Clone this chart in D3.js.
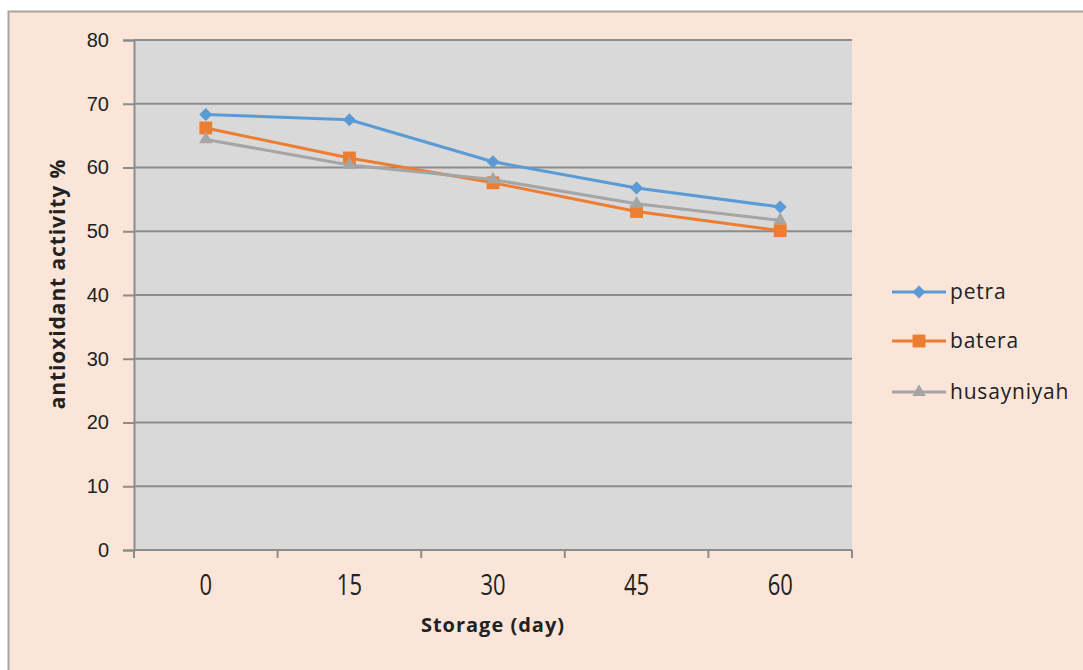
<!DOCTYPE html>
<html>
<head>
<meta charset="utf-8">
<script src="https://cdn.jsdelivr.net/npm/d3@7"></script>
<style>
  body { margin: 0; background: #fff; }
  svg { display: block; font-family: "Open Sans", "Liberation Sans", sans-serif; }
</style>
</head>
<body>
<svg id="chart" width="1083" height="670"></svg>
<script>
const days = ["0", "15", "30", "45", "60"];
const petra = [68.3, 67.5, 60.9, 56.8, 53.8];
const batera = [66.2, 61.5, 57.6, 53.1, 50.1];
const husayniyah = [64.4, 60.4, 58.1, 54.3, 51.7];
const yTicks = [0, 10, 20, 30, 40, 50, 60, 70, 80];

// square-ish diamond like the spreadsheet marker
const rhombus = {
  draw(ctx, size) {
    const r = Math.sqrt(size / 2);
    ctx.moveTo(0, -r); ctx.lineTo(r, 0); ctx.lineTo(0, r); ctx.lineTo(-r, 0); ctx.closePath();
  }
};

const series = [
  { name: "petra", values: petra, color: "#5B9BD5", shape: rhombus, size: 85 },
  { name: "batera", values: batera, color: "#ED7D31", shape: d3.symbolSquare, size: 165 },
  { name: "husayniyah", values: husayniyah, color: "#A5A5A5", shape: d3.symbolTriangle, size: 80 },
];

const svg = d3.select("#chart");

// chart frame
svg.append("rect")
  .attr("x", 8.5).attr("y", 11.5)
  .attr("width", 1090).attr("height", 680)
  .attr("fill", "#FAE5D8")
  .attr("stroke", "#A6A6A6").attr("stroke-width", 2);

const plot = { left: 134, right: 852, top: 40, bottom: 550 };

const x = d3.scaleBand().domain(days).range([plot.left, plot.right]).padding(0);
const y = d3.scaleLinear().domain([0, 80]).range([plot.bottom, plot.top]);

svg.append("rect")
  .attr("x", plot.left).attr("y", plot.top)
  .attr("width", plot.right - plot.left).attr("height", plot.bottom - plot.top)
  .attr("fill", "#D9D9D9");

// gridlines
svg.append("g")
  .selectAll("line")
  .data(yTicks.filter(d => d > 0))
  .join("line")
  .attr("x1", plot.left).attr("x2", plot.right)
  .attr("y1", d => y(d)).attr("y2", d => y(d))
  .attr("stroke", "#8C8C8C").attr("stroke-width", 2);

// y axis
const yAxis = svg.append("g")
  .attr("transform", `translate(${plot.left},0)`)
  .call(d3.axisLeft(y).tickValues(yTicks).tickSize(11).tickPadding(14));
yAxis.select(".domain").attr("stroke", "#8C8C8C").attr("stroke-width", 2);
yAxis.selectAll(".tick line").attr("stroke", "#8C8C8C").attr("stroke-width", 2);
yAxis.selectAll("text").attr("font-size", 20).attr("fill", "#222");

// x axis: ticks sit on band edges
const xAxis = svg.append("g")
  .attr("transform", `translate(0,${plot.bottom})`);
xAxis.append("line")
  .attr("x1", plot.left).attr("x2", plot.right)
  .attr("stroke", "#8C8C8C").attr("stroke-width", 2);
xAxis.selectAll(".edge")
  .data(days.map(d => x(d)).concat([x(days[days.length - 1]) + x.bandwidth()]))
  .join("line")
  .attr("class", "edge")
  .attr("x1", d => d).attr("x2", d => d)
  .attr("y1", 0).attr("y2", 8)
  .attr("stroke", "#8C8C8C").attr("stroke-width", 2);
xAxis.selectAll("text")
  .data(days)
  .join("text")
  .attr("transform", d => `translate(${x(d) + x.bandwidth() / 2},45) scale(1,1.3)`)
  .attr("text-anchor", "middle")
  .attr("font-size", 22).attr("fill", "#222")
  .text(d => d);

// axis titles
svg.append("text")
  .attr("x", 493).attr("y", 632)
  .attr("text-anchor", "middle")
  .attr("font-size", 20).attr("font-weight", "bold").attr("fill", "#222")
  .attr("letter-spacing", 1)
  .text("Storage (day)");
svg.append("text")
  .attr("transform", "translate(65,284) rotate(-90)")
  .attr("text-anchor", "middle")
  .attr("font-size", 21).attr("font-weight", "bold").attr("fill", "#222")
  .attr("letter-spacing", 0.9)
  .text("antioxidant activity %");

// lines and markers
const cx = d => x(d) + x.bandwidth() / 2;
const line = d3.line().x((v, i) => cx(days[i])).y(v => y(v));

series.forEach(s => {
  svg.append("path")
    .attr("d", line(s.values))
    .attr("fill", "none")
    .attr("stroke", s.color).attr("stroke-width", 3)
    .attr("stroke-linejoin", "round");
  svg.append("g")
    .selectAll("path")
    .data(s.values)
    .join("path")
    .attr("transform", (v, i) => `translate(${cx(days[i])},${y(v)})`)
    .attr("d", d3.symbol().type(s.shape).size(s.size))
    .attr("fill", s.color);
});

// legend
const legendY = [292, 341, 392];
const legend = svg.append("g");
series.forEach((s, i) => {
  const g = legend.append("g").attr("transform", `translate(892,${legendY[i]})`);
  g.append("line").attr("x1", 0).attr("x2", 54)
    .attr("stroke", s.color).attr("stroke-width", 3);
  g.append("path")
    .attr("transform", "translate(27,0)")
    .attr("d", d3.symbol().type(s.shape).size(s.size))
    .attr("fill", s.color);
  g.append("text")
    .attr("x", 58).attr("y", 7)
    .attr("font-size", 21).attr("fill", "#222")
    .attr("letter-spacing", 0.8)
    .text(s.name);
});
</script>
</body>
</html>
